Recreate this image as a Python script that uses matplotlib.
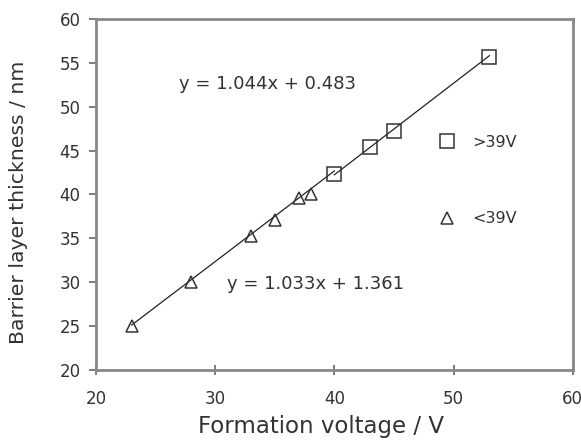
import numpy as np
import matplotlib
matplotlib.use("Agg")
import matplotlib.pyplot as plt

plt.rcParams['font.family'] = ['DejaVu Sans']

# data
v_low = [23, 28, 33, 35, 37, 38]
t_low = [25.0, 30.0, 35.3, 37.1, 39.6, 40.1]
v_high = [40, 43, 45, 53]
t_high = [42.3, 45.4, 47.2, 55.7]
fit_high = (1.044, 0.483)
fit_low = (1.033, 1.361)
eq_high = "y = 1.044x + 0.483"
eq_low = "y = 1.033x + 1.361"
x_ticks = [20, 30, 40, 50, 60]
y_ticks = [20, 25, 30, 35, 40, 45, 50, 55, 60]

fig = plt.figure(figsize=(5.81, 4.41), dpi=100)
ax = fig.add_axes([0.165, 0.161, 0.821, 0.796])

xl = np.array([v_low[0], v_high[0]])
ax.plot(xl, fit_low[0] * xl + fit_low[1], color='#222222', lw=0.9)
xh = np.array([v_high[0], v_high[-1]])
ax.plot(xh, fit_high[0] * xh + fit_high[1], color='#222222', lw=0.9)

ax.plot(v_high, t_high, ls='none', marker='s', ms=9.5, mfc='none', mec='#333333', mew=1.1, label='>39V')
ax.plot(v_low, t_low, ls='none', marker='^', ms=8, mfc='none', mec='#333333', mew=1.1, label='<39V')

ax.text(27, 52.6, eq_high, fontsize=13, color='#333333', va='center')
ax.text(31, 29.8, eq_low, fontsize=13, color='#333333', va='center')

ax.legend(loc='center left', bbox_to_anchor=(0.689, 0.54), frameon=False, fontsize=11.5,
          labelspacing=3.85, handletextpad=1.06, handlelength=1.0, labelcolor='#333333')

ax.set_xlim(20, 60)
ax.set_ylim(20, 60)
ax.set_xticks(x_ticks)
ax.set_yticks(y_ticks)
ax.tick_params(axis='x', direction='inout', length=7, width=1.2, colors='#666666',
               labelcolor='#333333', labelsize=12, pad=11)
ax.tick_params(axis='y', direction='out', length=5, width=1.2, colors='#666666',
               labelcolor='#333333', labelsize=12, pad=6)
for s in ax.spines.values():
    s.set_color('#888888')
    s.set_linewidth(2)
ax.set_xlabel('Formation voltage / V', fontsize=16.5, color='#333333')
ax.set_ylabel('Barrier layer thickness / nm', fontsize=14.7, color='#333333')
ax.xaxis.set_label_coords(0.472, -0.128)
ax.yaxis.set_label_coords(-0.143, 0.479)

fig.savefig('out.png', dpi=100)
